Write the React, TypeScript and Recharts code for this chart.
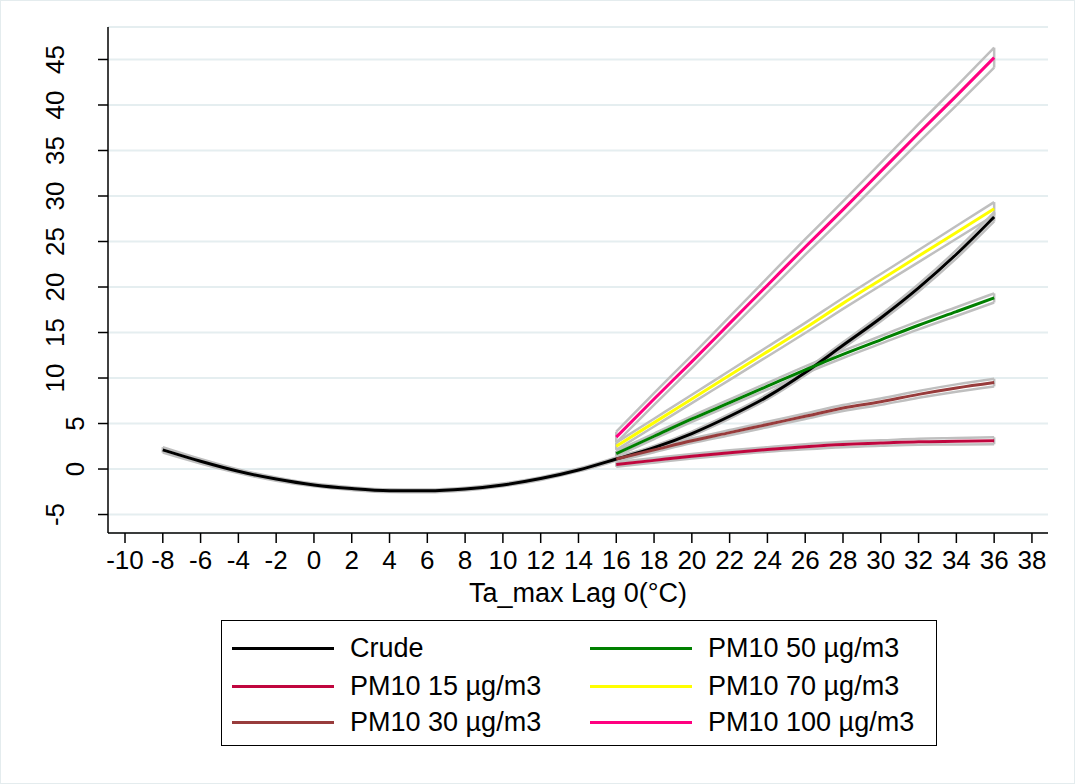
import {
  LineChart,
  Line,
  XAxis,
  YAxis,
  CartesianGrid,
  ReferenceLine,
} from "recharts";

// temperature points (°C)
const temps = [-8, -6, -4, -2, 0, 2, 4, 6, 8, 10, 12, 14, 16, 18, 20, 22, 24, 26, 28, 30, 32, 34, 36];
const crude = [2.1, 0.85, -0.25, -1.1, -1.75, -2.15, -2.38, -2.4, -2.2, -1.75, -1.05, -0.1, 1.1, 2.35, 3.9, 5.8, 7.95, 10.6, 13.6, 16.6, 19.9, 23.6, 27.7];
const crudeCi = [0.3, 0.25, 0.2, 0.18, 0.15, 0.15, 0.15, 0.15, 0.15, 0.15, 0.15, 0.15, 0.18, 0.2, 0.22, 0.25, 0.28, 0.3, 0.33, 0.36, 0.4, 0.45, 0.5];

// PM10 strata start at 16°C
const hotTemps = [16, 18, 20, 22, 24, 26, 28, 30, 32, 34, 36];
const pm15 = [0.5, 0.95, 1.4, 1.8, 2.15, 2.45, 2.7, 2.85, 3.0, 3.05, 3.1];
const pm15Ci = [0.25, 0.25, 0.25, 0.25, 0.25, 0.28, 0.3, 0.3, 0.33, 0.35, 0.38];
const pm30 = [1.1, 2.1, 3.1, 4.0, 4.9, 5.8, 6.7, 7.4, 8.2, 8.9, 9.5];
const pm30Ci = [0.25, 0.25, 0.25, 0.28, 0.3, 0.3, 0.33, 0.35, 0.38, 0.4, 0.42];
const pm50 = [1.7, 3.6, 5.5, 7.3, 9.1, 10.9, 12.6, 14.2, 15.8, 17.3, 18.8];
const pm50Ci = [0.3, 0.3, 0.32, 0.34, 0.36, 0.38, 0.4, 0.42, 0.45, 0.48, 0.5];
const pm70 = [2.5, 5.1, 7.7, 10.3, 12.9, 15.5, 18.2, 20.8, 23.4, 26.0, 28.6];
const pm70Ci = [0.4, 0.43, 0.46, 0.5, 0.53, 0.56, 0.6, 0.63, 0.66, 0.7, 0.73];
const pm100 = [3.5, 7.7, 11.8, 16.0, 20.2, 24.4, 28.5, 32.7, 36.9, 41.0, 45.2];
const pm100Ci = [0.6, 0.65, 0.7, 0.75, 0.8, 0.85, 0.9, 0.95, 1.0, 1.05, 1.1];

const xTicks = [-10, -8, -6, -4, -2, 0, 2, 4, 6, 8, 10, 12, 14, 16, 18, 20, 22, 24, 26, 28, 30, 32, 34, 36, 38];
const yTicks = [-5, 0, 5, 10, 15, 20, 25, 30, 35, 40, 45];

const series = [
  { key: "crude", name: "Crude", color: "#000000", xs: temps, ys: crude, ci: crudeCi },
  { key: "pm15", name: "PM10 15 µg/m3", color: "#c0063e", xs: hotTemps, ys: pm15, ci: pm15Ci },
  { key: "pm30", name: "PM10 30 µg/m3", color: "#983c3c", xs: hotTemps, ys: pm30, ci: pm30Ci },
  { key: "pm50", name: "PM10 50 µg/m3", color: "#008000", xs: hotTemps, ys: pm50, ci: pm50Ci },
  { key: "pm70", name: "PM10 70 µg/m3", color: "#ffff00", xs: hotTemps, ys: pm70, ci: pm70Ci },
  { key: "pm100", name: "PM10 100 µg/m3", color: "#ff0080", xs: hotTemps, ys: pm100, ci: pm100Ci },
];

const legendOrder = ["crude", "pm50", "pm15", "pm70", "pm30", "pm100"];

const rows = temps.map((t) => {
  const row: any = { x: t };
  series.forEach((s) => {
    const i = s.xs.indexOf(t);
    if (i >= 0) {
      row[s.key] = s.ys[i];
      row[s.key + "Lo"] = s.ys[i] - s.ci[i];
      row[s.key + "Hi"] = s.ys[i] + s.ci[i];
    }
  });
  return row;
});

const FONT = "'Liberation Sans', Arial, sans-serif";
const GRAY = "#bfbfbf";

const YTick = ({ x, y, payload }: any) => {
  const label = String(payload.value);
  const cx = label.length === 1 ? 75 : 55;
  return (
    <text
      x={cx}
      y={y}
      transform={`rotate(-90 ${cx} ${y})`}
      textAnchor="middle"
      dominantBaseline="central"
      fontSize={26}
      fontFamily={FONT}
      fill="#000"
    >
      {label}
    </text>
  );
};

export default function App() {
  const byKey: any = {};
  series.forEach((s) => (byKey[s.key] = s));

  return (
    <div
      style={{
        position: "absolute",
        left: 0,
        top: 0,
        width: 1075,
        height: 784,
        background: "#fff",
        outline: "1px solid #e4ecee",
        outlineOffset: -1,
        fontFamily: FONT,
      }}
    >
      <LineChart
        width={1075}
        height={610}
        data={rows}
        margin={{ top: 27, right: 27, left: 0, bottom: 0 }}
      >
        <CartesianGrid horizontal vertical={false} stroke="#e5eef0" strokeWidth={2} />
        <XAxis
          dataKey="x"
          type="number"
          domain={[-10.9, 38.85]}
          ticks={xTicks}
          interval={0}
          allowDataOverflow
          height={77}
          tickSize={10}
          tickMargin={8}
          axisLine={{ stroke: "#000", strokeWidth: 1.5 }}
          tickLine={{ stroke: "#000", strokeWidth: 1.5 }}
          tick={{ fontSize: 26, fontFamily: FONT, fill: "#000" }}
          label={{
            value: "Ta_max Lag 0(°C)",
            position: "insideBottom",
            offset: 8,
            fontSize: 27,
            fontFamily: FONT,
            fill: "#000",
          }}
        />
        <YAxis
          type="number"
          domain={[-7.03, 48.57]}
          ticks={yTicks}
          interval={0}
          allowDataOverflow
          width={108}
          tickSize={10}
          axisLine={{ stroke: "#000", strokeWidth: 1.5 }}
          tickLine={{ stroke: "#000", strokeWidth: 1.5 }}
          tick={<YTick />}
        />

        {/* confidence bands: grey bounds */}
        {series.map((s) => (
          <Line
            key={s.key + "Lo"}
            dataKey={s.key + "Lo"}
            type="monotone"
            stroke={GRAY}
            strokeWidth={2.5}
            dot={false}
            activeDot={false}
            isAnimationActive={false}
            legendType="none"
          />
        ))}
        {series.map((s) => (
          <Line
            key={s.key + "Hi"}
            dataKey={s.key + "Hi"}
            type="monotone"
            stroke={GRAY}
            strokeWidth={2.5}
            dot={false}
            activeDot={false}
            isAnimationActive={false}
            legendType="none"
          />
        ))}
        {/* band end caps */}
        {series.flatMap((s) =>
          [0, s.xs.length - 1].map((i) => (
            <ReferenceLine
              key={s.key + "cap" + i}
              segment={[
                { x: s.xs[i], y: s.ys[i] - s.ci[i] },
                { x: s.xs[i], y: s.ys[i] + s.ci[i] },
              ]}
              stroke={GRAY}
              strokeWidth={2.5}
              ifOverflow="visible"
            />
          )),
        )}

        {series.map((s) => (
          <Line
            key={s.key}
            dataKey={s.key}
            name={s.name}
            type="monotone"
            stroke={s.color}
            strokeWidth={3}
            dot={false}
            activeDot={false}
            isAnimationActive={false}
          />
        ))}
      </LineChart>

      {/* legend */}
      <div
        style={{
          position: "absolute",
          left: 221,
          top: 620,
          width: 716,
          height: 126,
          border: "1.5px solid #000",
          boxSizing: "border-box",
        }}
      >
        {legendOrder.map((k, i) => {
          const s = byKey[k];
          const col = i % 2;
          const row = Math.floor(i / 2);
          const top = [27, 65, 101][row];
          const lineLeft = col === 0 ? 10 : 368;
          const textLeft = col === 0 ? 128 : 486;
          return (
            <div key={k}>
              <div
                style={{
                  position: "absolute",
                  left: lineLeft,
                  top: top - 1.5,
                  width: 102,
                  height: 3,
                  background: s.color,
                }}
              />
              <div
                style={{
                  position: "absolute",
                  left: textLeft,
                  top: top - 16,
                  fontSize: 27,
                  lineHeight: "32px",
                  whiteSpace: "nowrap",
                  color: "#000",
                }}
              >
                {s.name}
              </div>
            </div>
          );
        })}
      </div>
    </div>
  );
}
